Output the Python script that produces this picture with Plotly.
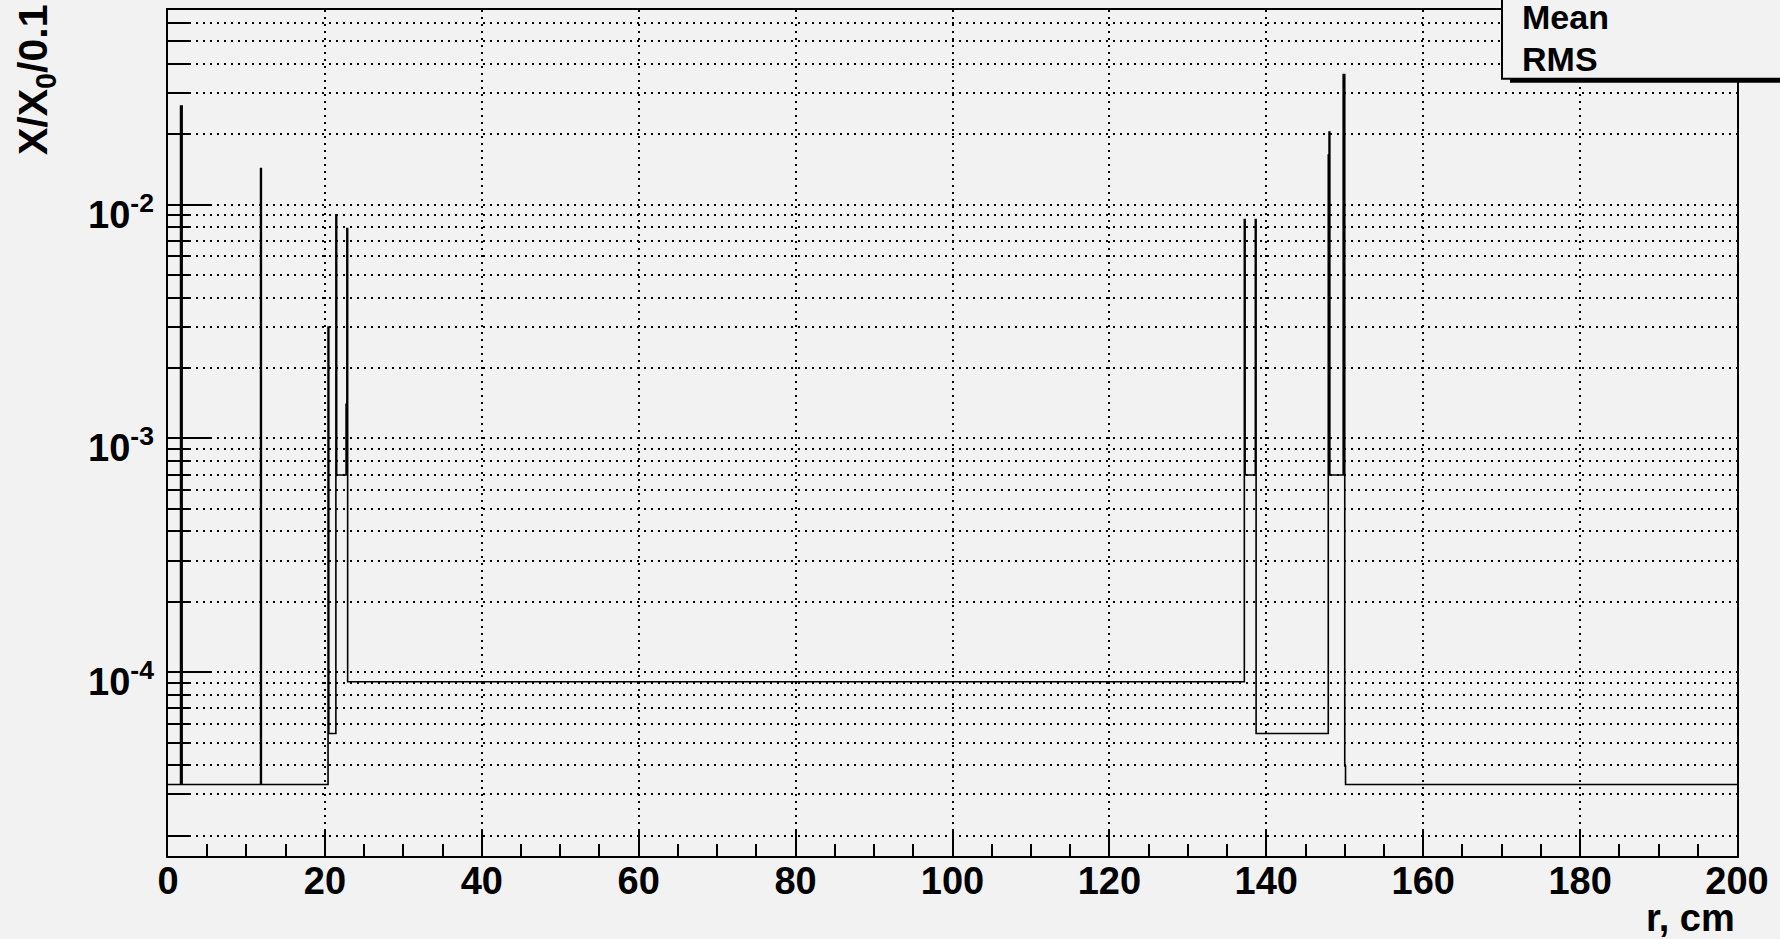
import math
import plotly.graph_objects as go

# ---- data ----
# left edges of histogram segments (cm) and the value X/X0/0.1 on each
r_edges = [0.0, 1.6, 1.8, 11.8, 11.9, 20.4, 20.5, 21.4, 21.5, 22.7, 22.8, 22.9,
           137.2, 137.3, 138.6, 138.7, 147.9, 148.0, 148.1, 149.8, 150.0, 150.1, 200.0]
x_over_x0 = [3.31e-5, 0.0264, 3.31e-5, 0.01426, 3.31e-5, 0.00299, 5.47e-5, 0.00903,
             6.97e-4, 0.0014, 0.00789, 9.1e-5, 0.00863, 6.97e-4, 0.00863, 5.47e-5,
             0.0163, 0.0204, 6.97e-4, 0.036, 3.97e-5, 3.31e-5]

x_major_ticks = [0, 20, 40, 60, 80, 100, 120, 140, 160, 180, 200]
x_tick_labels = ["0", "20", "40", "60", "80", "100", "120", "140", "160", "180", "200"]
y_major_ticks = [1e-4, 1e-3, 1e-2]
y_tick_labels = ["10<sup>-4</sup>", "10<sup>-3</sup>", "10<sup>-2</sup>"]
y_minor_ticks = [m * d for d in [1e-5, 1e-4, 1e-3, 1e-2] for m in range(2, 10)]
stats_labels = ["Mean", "RMS"]

# ---- figure ----
W, H = 1780, 939
L, R, T, B = 168, 43, 8, 83
pw, ph = W - L - R, H - T - B
BG = "#f2f2f2"
FONT = dict(family="Liberation Sans", size=37, color="black", weight="bold")
DOT = "2px,5px"

def px_x(p):
    return (p - L) / pw

def px_y(p):
    return (H - B - p) / ph

xs = list(r_edges)
ys = list(x_over_x0) + [x_over_x0[-1]]

fig = go.Figure()
fig.add_trace(go.Scatter(x=xs, y=ys, mode="lines", line=dict(color="black", width=1.6, shape="hv"),
                         hoverinfo="skip", showlegend=False))

fig.update_layout(
    width=W, height=H,
    margin=dict(l=L, r=R, t=T, b=B, pad=0),
    paper_bgcolor=BG, plot_bgcolor=BG,
    showlegend=False,
    font=FONT,
)

fig.update_xaxes(
    range=[0, 200], tickvals=x_major_ticks, ticktext=x_tick_labels,
    ticks="inside", ticklen=25, tickwidth=2, tickcolor="black",
    tickfont=dict(FONT, size=38), ticklabelstandoff=-10,
    showline=True, linewidth=2, linecolor="black", mirror=True,
    showgrid=True, gridcolor="black", gridwidth=1.5, griddash=DOT,
    zeroline=False,
    minor=dict(dtick=5, tick0=0, ticks="inside", ticklen=12, tickwidth=2, tickcolor="black", showgrid=False),
)

fig.update_yaxes(
    type="log", range=[-4.786, -1.168],
    tickvals=y_major_ticks, showticklabels=False,
    ticks="inside", ticklen=44, tickwidth=2, tickcolor="black",
    showline=True, linewidth=2, linecolor="black", mirror=True,
    showgrid=True, gridcolor="black", gridwidth=1.5, griddash=DOT,
    zeroline=False,
    minor=dict(tickvals=y_minor_ticks, ticks="inside", ticklen=22, tickwidth=2, tickcolor="black",
               showgrid=True, gridcolor="black", gridwidth=1.5, griddash=DOT),
)

# y tick labels (placed at the axis values, shifted like ROOT)
for v, lbl in zip(y_major_ticks, y_tick_labels):
    fig.add_annotation(text=lbl, xref="paper", yref="y", x=px_x(156), y=math.log10(v),
                       xanchor="right", yanchor="middle", yshift=-7, showarrow=False,
                       font=dict(FONT, size=38))

# axis titles
fig.add_annotation(text="r, cm", xref="paper", yref="paper", x=1.0, y=px_y(918),
                   xanchor="right", yanchor="middle", showarrow=False, font=dict(FONT, size=38))
fig.add_annotation(text="X/X<sub>0</sub>/0.1", xref="paper", yref="paper", x=px_x(36), y=px_y(1),
                   xanchor="center", yanchor="top", textangle=-90, showarrow=False,
                   font=dict(FONT, size=41))

# statistics box (partially outside the canvas)
fig.add_shape(type="rect", xref="paper", yref="paper", x0=px_x(1510), x1=1.3, y0=px_y(81), y1=px_y(77),
              line=dict(width=0), fillcolor="black", layer="above")
fig.add_shape(type="rect", xref="paper", yref="paper", x0=px_x(1502), x1=1.3, y0=px_y(77), y1=1.2,
              line=dict(width=2, color="black"), fillcolor=BG, layer="above")
for lbl, yc in zip(stats_labels, [15, 57]):
    fig.add_annotation(text=lbl, xref="paper", yref="paper", x=px_x(1520), y=px_y(yc),
                       xanchor="left", yanchor="middle", showarrow=False, font=dict(FONT, size=34))

fig.write_html("out.html")
